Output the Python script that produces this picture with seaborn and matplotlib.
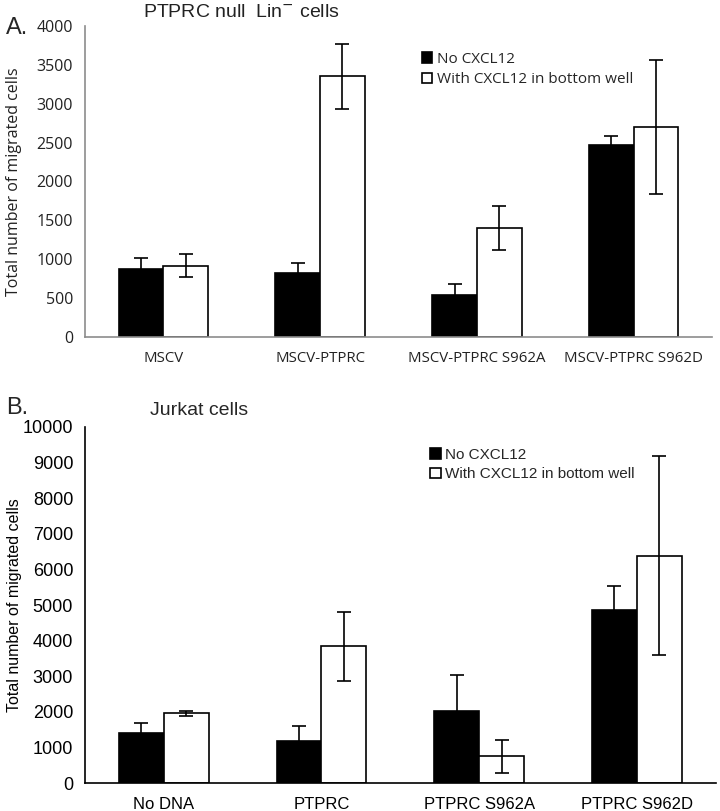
import numpy as np
import pandas as pd
import matplotlib
matplotlib.use("Agg")
import matplotlib.pyplot as plt
import seaborn as sns

# Panel A data: PTPRC null Lin- cells
catsA = ["MSCV", "MSCV-PTPRC", "MSCV-PTPRC S962A", "MSCV-PTPRC S962D"]
noA = [870, 820, 545, 2470]
noA_err = [150, 130, 130, 110]
withA = [915, 3350, 1400, 2700]
withA_err = [150, 420, 280, 860]

# Panel B data: Jurkat cells
catsB = ["No DNA", "PTPRC", "PTPRC S962A", "PTPRC S962D"]
noB = [1400, 1180, 2030, 4870]
noB_err = [280, 420, 1000, 670]
withB = [1960, 3840, 750, 6390]
withB_err = [70, 970, 470, 2800]

groups = ["No CXCL12", "With CXCL12 in bottom well"]

sns.set_style("white")


def panel(ax, cats, no, no_err, wi, wi_err, ymax, step, font, axcol, txtcol, leg_at, fs):
    df = pd.DataFrame({
        "cat": cats * 2,
        "grp": [groups[0]] * 4 + [groups[1]] * 4,
        "val": no + wi,
    })
    sns.barplot(data=df, x="cat", y="val", hue="grp", order=cats, hue_order=groups,
                palette=["black", "white"], edgecolor="black", linewidth=1.2,
                width=0.57, errorbar=None, ax=ax, legend=True)
    errs = no_err + wi_err
    vals = no + wi
    bars = [p for p in ax.patches if p.get_height() > 0][:8]
    for p, v, e in zip(bars, vals, errs):
        xc = p.get_x() + p.get_width() / 2
        ax.errorbar(xc, v, yerr=e, color="black", capsize=5, elinewidth=1.2,
                    capthick=1.2, zorder=5)
    ax.set_xlim(-0.5, 3.5)
    ax.set_ylim(0, ymax)
    ax.set_yticks(np.arange(0, ymax + 1, step))
    ax.set_xlabel("")
    ax.set_ylabel("Total number of migrated cells", fontsize=fs[0], family=font,
                  color=txtcol)
    ax.yaxis.set_label_coords(-0.1, 0.5)
    ax.set_xticks(range(4))
    ax.set_xticklabels(cats, fontsize=fs[1], family=font, color=txtcol)
    ax.set_xticks([-0.5, 0.5, 1.5, 2.5, 3.5], minor=True)
    ax.tick_params(axis="x", which="major", length=0, pad=10)
    ax.tick_params(axis="x", which="minor", length=6, color=axcol, width=1)
    ax.tick_params(axis="y", length=5, color=axcol, width=1, labelsize=fs[2],
                   labelcolor=txtcol)
    for t in ax.get_yticklabels():
        t.set_family(font)
    for s in ["top", "right"]:
        ax.spines[s].set_visible(False)
    for s in ["left", "bottom"]:
        ax.spines[s].set_color(axcol)
        ax.spines[s].set_linewidth(1.2)
    ax.legend(loc="upper left", bbox_to_anchor=leg_at, frameon=False,
              handlelength=0.7, handleheight=0.7, handletextpad=0.3,
              labelspacing=0.35, prop={"family": font, "size": 11})


fig = plt.figure(figsize=(7.2, 8.11), dpi=100)
axA = fig.add_axes([0.118, 0.5845, 0.871, 0.3835])
axB = fig.add_axes([0.118, 0.0345, 0.876, 0.439])

panel(axA, catsA, noA, noA_err, withA, withA_err, 4000, 500, "Open Sans", "#8c8c8c",
      "#222222", (0.515, 0.96), (11.5, 10.8, 11.5))
panel(axB, catsB, noB, noB_err, withB, withB_err, 10000, 1000, "Liberation Sans", "black",
      "black", (0.525, 0.98), (11.5, 12, 13))

fig.text(0.008, 0.965, "A.", fontsize=17, family="Liberation Sans", va="center")
fig.text(0.335, 0.985, "PTPRC null  Lin$^{-}$ cells", fontsize=14, family="Liberation Sans",
         va="center", ha="center", color="#222222")
fig.text(0.008, 0.497, "B.", fontsize=17, family="Liberation Sans", va="center")
fig.text(0.277, 0.494, "Jurkat cells", fontsize=14, family="Liberation Sans",
         va="center", ha="center")

fig.savefig("out.png", dpi=100)
